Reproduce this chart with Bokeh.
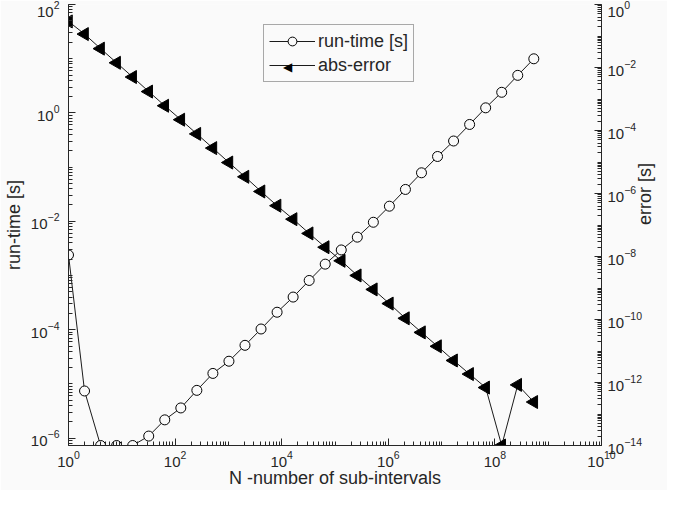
import math
from bokeh.plotting import figure
from bokeh.models import (LogAxis, Range1d, LogScale, FixedTicker, Legend,
                          LegendItem, LogTickFormatter, Label)
from bokeh.embed import file_html
from bokeh.resources import INLINE

# ---- data ----
N = [1, 2, 4, 8, 16, 32, 64, 128, 256, 512, 1024, 2048, 4096, 8192, 16384,
     32768, 65536, 131072, 262144, 524288, 1048576, 2097152, 4194304,
     8388608, 16777216, 33554432, 67108864, 134217728, 268435456, 536870912]

runtime = [2.39e-3, 7.4e-6, 7.3e-7, 7.3e-7, 7.3e-7, 1.09e-6, 2.17e-6, 3.6e-6,
           7.6e-6, 1.56e-5, 2.62e-5, 5.15e-5, 1.03e-4, 2.1e-4, 4.0e-4, 8.1e-4,
           1.62e-3, 2.96e-3, 5.1e-3, 9.6e-3, 0.019, 0.0387, 0.0785, 0.157,
           0.303, 0.612, 1.24, 2.40, 4.93, 9.96]

abserr = [0.29, 0.115, 0.0397, 0.0141, 4.98e-3, 1.72e-3, 6.1e-4, 2.2e-4,
          7.8e-5, 2.76e-5, 9.6e-6, 3.39e-6, 1.16e-6, 4.1e-7, 1.53e-7, 5.4e-8,
          1.97e-8, 7.3e-9, 2.5e-9, 9.0e-10, 3.2e-10, 1.09e-10, 3.9e-11,
          1.41e-11, 5.0e-12, 1.85e-12, 6.9e-13, 1.0e-14, 8.4e-13, 2.4e-13]

x_major = [1e0, 1e2, 1e4, 1e6, 1e8, 1e10]
y_left_major = [1e-6, 1e-4, 1e-2, 1e0, 1e2]
y_right_major = [1e-14, 1e-12, 1e-10, 1e-8, 1e-6, 1e-4, 1e-2, 1e0]

x_label = "N -number of sub-intervals"
y_left_label = "run-time [s]"
y_right_label = "error [s]"
series_labels = ["run-time [s]", "abs-error"]

# ---- styling / layout ----
FONT = "Liberation Sans"
AX = "#262626"
BG = "#fafafa"
W, H = 667, 490
BL, BR, BT, BB = 61, 63, 4, 45
FW, FH = W - BL - BR, H - BT - BB       # intended frame size
X0, X1 = 1.0, 1e10
Y0, Y1 = min(runtime), 100.0


def fx(px):
    lx0, lx1 = math.log10(X0), math.log10(X1)
    return 10 ** (lx0 + px * (lx1 - lx0) / FW)


def fy(py):
    ly0, ly1 = math.log10(Y0), math.log10(Y1)
    return 10 ** (ly0 + py * (ly1 - ly0) / FH)


def minors(e0, e1):
    return [m * 10.0 ** e for e in range(e0, e1) for m in range(2, 10)] + \
           [10.0 ** e for e in range(e0, e1 + 1)]


p = figure(width=W, height=H, x_axis_type="log", y_axis_type="log",
           x_range=Range1d(X0, X1), y_range=Range1d(Y0, Y1),
           output_backend="svg", toolbar_location=None,
           min_border_left=BL, min_border_right=BR, min_border_top=BT,
           min_border_bottom=BB)
p.background_fill_color = BG
p.border_fill_color = BG
p.outline_line_color = None
p.grid.visible = False

p.extra_y_ranges = {"err": Range1d(1e-14, 1e0)}
p.extra_y_scales = {"err": LogScale()}
rax = LogAxis(y_range_name="err")
p.add_layout(rax, "right")

p.xaxis.ticker = FixedTicker(ticks=x_major, minor_ticks=minors(0, 10))
p.yaxis[0].ticker = FixedTicker(ticks=y_left_major, minor_ticks=minors(-7, 2))
rax.ticker = FixedTicker(ticks=y_right_major, minor_ticks=minors(-14, 0))

p.yaxis[0].axis_label = y_left_label
p.xaxis[0].axis_label = x_label
rax.axis_label = y_right_label
try:
    rax.axis_label_orientation = math.pi / 2
except Exception:
    pass

for ax in [p.xaxis[0], p.yaxis[0], rax]:
    ax.formatter = LogTickFormatter()
    ax.axis_line_color = AX
    ax.axis_line_width = 1
    ax.major_tick_line_color = AX
    ax.minor_tick_line_color = AX
    ax.major_tick_in = 7
    ax.major_tick_out = 0
    ax.minor_tick_in = 4
    ax.minor_tick_out = 0
    ax.major_label_text_font = FONT
    ax.major_label_text_font_size = "15px"
    ax.major_label_text_color = AX
    ax.major_label_text_line_height = 1.0
    ax.axis_label_text_font = FONT
    ax.axis_label_text_font_size = "18px"
    ax.axis_label_text_font_style = "normal"
    ax.axis_label_text_color = AX
    ax.axis_label_text_line_height = 1.0
    ax.axis_label_standoff = 4
p.yaxis[0].major_label_standoff = 9
p.xaxis[0].major_label_standoff = 5
p.xaxis[0].axis_label_standoff = -2
rax.major_label_standoff = 6
rax.axis_label_standoff = 0

r1 = p.line(N, runtime, line_color="black", line_width=0.9)
r2 = p.scatter(N, runtime, marker="circle", size=10, line_color="black",
               line_width=1, fill_color=BG)
r3 = p.line(N, abserr, line_color="black", line_width=0.9, y_range_name="err")
r4 = p.scatter(N, abserr, marker="triangle", size=13, angle=math.pi / 2,
               line_color="black", fill_color="black", y_range_name="err")

LEG_X, LEG_Y, PAD, GW, ROW, SP = 195, 363, 5, 46, 22, 2

# left-pointing triangle symbol for the legend's second entry (drawn under
# the transparent legend box)
p.add_layout(Label(x=fx(LEG_X + PAD + GW / 2), y=fy(LEG_Y + PAD + ROW / 2),
                   text="\u25C0", text_font=FONT, text_font_size="12px",
                   text_color="black", text_align="center",
                   text_baseline="middle"))

legend = Legend(items=[LegendItem(label=series_labels[0], renderers=[r1, r2]),
                       LegendItem(label=series_labels[1], renderers=[r3])],
                location=(LEG_X, LEG_Y), label_text_font=FONT,
                label_text_font_size="18px", label_text_color=AX,
                glyph_width=GW, glyph_height=ROW, label_height=ROW,
                spacing=SP, padding=PAD, margin=0, label_standoff=3,
                border_line_color="#555555", background_fill_color=BG,
                background_fill_alpha=0)
p.add_layout(legend)

open("out.html", "w").write(file_html(p, INLINE))
